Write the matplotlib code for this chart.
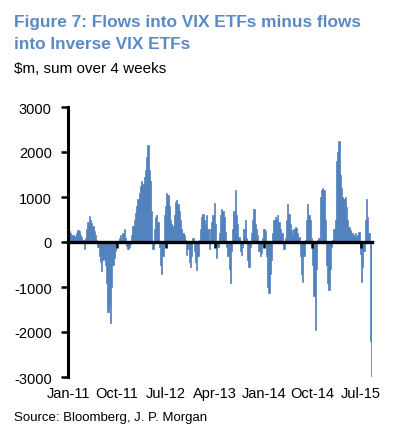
import numpy as np
import pandas as pd
import matplotlib
matplotlib.use("Agg")
import matplotlib.pyplot as plt

plt.rcParams['font.family'] = ['Liberation Sans', 'DejaVu Sans']
plt.rcParams['axes.unicode_minus'] = False

# weekly flows, $m, sum over 4 weeks
flows = [
    250, 200, 150, 150, 120, 130, 200, 270, 250, 150,
    120, 50, -150, 100, 300, 450, 580, 500, 420, 350,
    250, 150, 50, -100, -300, -450, -650, -400, -350, -500,
    -900, -1550, -1400, -1800, -1000, -500, -350, -200, -50, 30,
    100, 150, 50, 200, 280, 100, -80, -150, -120, -50,
    150, 350, 500, 650, 800, 950, 1100, 1250, 1350, 1300,
    1450, 1600, 1900, 2150, 1600, 1350, 700, -150, 300, 550,
    600, 450, -100, -500, -700, -300, 600, 800, 1100, 1050,
    800, 500, 400, 350, 600, 900, 930, 850, 700, 500,
    300, 200, 150, 50, -290, -150, -450, -550, -300, 100,
    -200, -450, -620, -300, 50, 300, 550, 630, 500, 400,
    590, 300, -150, 300, 440, 600, 870, 400, -350, -100,
    200, 600, 740, 700, 550, 220, -100, -300, -600, -920,
    -200, 300, 700, 1150, 600, 400, 110, -200, -290, -100,
    300, 480, 100, -400, -545, -100, 200, 500, 740, 400,
    300, 150, -200, -320, -250, 100, 300, 250, -300, -1000,
    -1140, -700, -400, 200, 500, 555, 480, 590, 450, 300,
    200, 190, -150, 100, 500, 850, 630, 400, 260, 150,
    300, 340, 320, 200, 110, -300, -700, -880, -300, 50,
    500, 850, 600, 480, 100, -500, -1200, -1950, -600, 50,
    100, 1000, 1150, 1200, 1150, 500, -500, -900, -1065, -600,
    -100, 50, 300, 480, 1800, 2000, 2250, 1500, 1200, 1000,
    950, 1000, 770, 500, 330, 260, 200, 190, 150, 190,
    110, 150, 220, -260, -880, -560, -200, 500, 960, 550,
    200, -2200, -2970,
]
dates = pd.date_range("2011-01-07", periods=len(flows), freq="W-FRI")

tick_dates = pd.to_datetime(["2011-01-01", "2011-10-01", "2012-07-01", "2013-04-01",
                             "2014-01-01", "2014-10-01", "2015-07-01"])
tick_labels = ["Jan-11", "Oct-11", "Jul-12", "Apr-13", "Jan-14", "Oct-14", "Jul-15"]
y_ticks = [-3000, -2000, -1000, 0, 1000, 2000, 3000]

bar_color = '#4F81BD'
title_color = '#5A8AC6'

fig = plt.figure(figsize=(3.96, 4.39), dpi=100)
ax = fig.add_axes([68.3 / 396, 1 - 378 / 439, 304 / 396, 270 / 439])

ax.bar(dates, flows, width=7, color=bar_color, edgecolor=bar_color, linewidth=0.5)

ax.set_xlim(pd.Timestamp("2011-01-01"), pd.Timestamp("2015-09-02"))
ax.set_ylim(-3000, 3000)
ax.set_yticks(y_ticks)
ax.set_yticklabels([str(v) for v in y_ticks], fontsize=10.5)

for s in ['top', 'right']:
    ax.spines[s].set_visible(False)
ax.spines['left'].set_linewidth(2.2)
ax.spines['bottom'].set_position(('data', 0))
ax.spines['bottom'].set_linewidth(2.4)
ax.spines['bottom'].set_zorder(3)

ax.set_xticks(tick_dates)
ax.tick_params(axis='x', direction='out', length=4, width=1.8, labelbottom=False)
ax.tick_params(axis='y', direction='out', length=5, width=1.8, pad=7)

# labels for the date axis sit under the plot, not on the zero line
sec = ax.secondary_xaxis('bottom')
sec.set_xticks(tick_dates)
sec.set_xticklabels(tick_labels, fontsize=10.5)
sec.tick_params(length=0, pad=6.5)
sec.spines['bottom'].set_visible(False)

title_font = dict(family=['Liberation Sans Narrow', 'Liberation Sans'], weight='bold',
                  fontsize=12.4, color=title_color, va='top')
fig.text(14 / 396, 1 - 15 / 439, "Figure 7: Flows into VIX ETFs minus flows", **title_font)
fig.text(14 / 396, 1 - 37 / 439, "into Inverse VIX ETFs", **title_font)
fig.text(14 / 396, 1 - 62 / 439, "$m, sum over 4 weeks", fontsize=11, color='black', va='top')
fig.text(14 / 396, 1 - 412 / 439, "Source: Bloomberg, J. P. Morgan", fontsize=9.5,
         color='black', va='top')

fig.savefig("out.png", dpi=100)
